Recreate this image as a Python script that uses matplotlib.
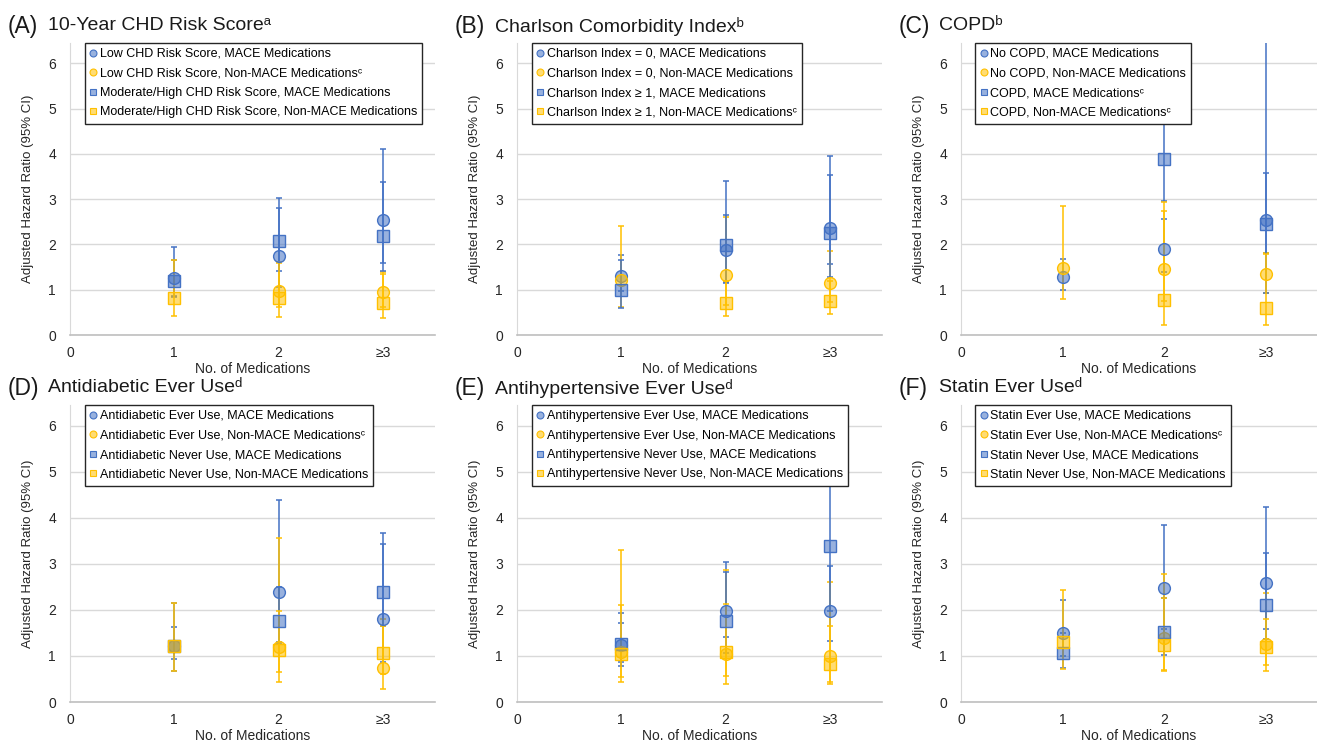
import numpy as np
import matplotlib
matplotlib.use("Agg")
import matplotlib.pyplot as plt

plt.rcParams['font.family'] = ['Liberation Sans', 'DejaVu Sans']

nan = np.nan
xcats = ["0", "1", "2", "\u22653"]
xpos = [1, 2, 3]
SUP = {"a": "\u1d43", "b": "\u1d47", "c": "\u1d9c", "d": "\u1d48"}

# series order: circle-blue, circle-yellow, square-blue, square-yellow
A_title = "10-Year CHD Risk Score"
A_sup = "a"
A_labels = ["Low CHD Risk Score, MACE Medications",
            "Low CHD Risk Score, Non-MACE Medications" + SUP["c"],
            "Moderate/High CHD Risk Score, MACE Medications",
            "Moderate/High CHD Risk Score, Non-MACE Medications"]
A_hr = [[1.27, 1.75, 2.54], [nan, 0.98, 0.94], [1.19, 2.08, 2.19], [0.82, 0.81, 0.70]]
A_lo = [[0.86, 1.05, 1.58], [nan, 0.61, 0.62], [0.85, 1.42, 1.42], [0.42, 0.40, 0.37]]
A_hi = [[1.95, 2.81, 4.10], [nan, 1.58, 1.40], [1.66, 3.02, 3.39], [1.66, 1.62, 1.35]]

B_title = "Charlson Comorbidity Index"
B_sup = "b"
B_labels = ["Charlson Index = 0, MACE Medications",
            "Charlson Index = 0, Non-MACE Medications",
            "Charlson Index \u2265 1, MACE Medications",
            "Charlson Index \u2265 1, Non-MACE Medications" + SUP["c"]]
B_hr = [[1.31, 1.88, 2.36], [1.22, 1.32, 1.15], [1.00, 1.99, 2.25], [nan, 0.70, 0.74]]
B_lo = [[0.98, 1.14, 1.57], [0.62, 0.67, 0.72], [0.60, 1.16, 1.29], [nan, 0.41, 0.46]]
B_hi = [[1.76, 2.64, 3.53], [2.41, 2.60, 1.85], [1.66, 3.40, 3.96], [nan, 1.20, 1.20]]

C_title = "COPD"
C_sup = "b"
C_labels = ["No COPD, MACE Medications",
            "No COPD, Non-MACE Medications",
            "COPD, MACE Medications" + SUP["c"],
            "COPD, Non-MACE Medications" + SUP["c"]]
C_hr = [[1.28, 1.91, 2.54], [1.49, 1.46, 1.35], [nan, 3.88, 2.46], [nan, 0.77, 0.59]]
C_lo = [[0.99, 1.40, 1.81], [0.79, 0.75, 0.92], [nan, 2.95, 0.93], [nan, 0.21, 0.21]]
C_hi = [[1.68, 2.57, 3.57], [2.84, 2.74, 1.81], [nan, 12.0, 9.0], [nan, 2.94, 1.80]]

D_title = "Antidiabetic Ever Use"
D_sup = "d"
D_labels = ["Antidiabetic Ever Use, MACE Medications",
            "Antidiabetic Ever Use, Non-MACE Medications" + SUP["c"],
            "Antidiabetic Never Use, MACE Medications",
            "Antidiabetic Never Use, Non-MACE Medications"]
D_hr = [[1.22, 2.39, 1.81], [nan, 1.19, 0.73], [1.22, 1.76, 2.38], [1.22, 1.12, 1.06]]
D_lo = [[0.94, 1.30, 0.87], [nan, 0.43, 0.28], [0.68, 1.25, 1.65], [0.68, 0.65, 0.60]]
D_hi = [[1.63, 4.38, 3.44], [nan, 3.56, 1.80], [2.16, 2.50, 3.68], [2.14, 1.98, 1.65]]

E_title = "Antihypertensive Ever Use"
E_sup = "d"
E_labels = ["Antihypertensive Ever Use, MACE Medications",
            "Antihypertensive Ever Use, Non-MACE Medications",
            "Antihypertensive Never Use, MACE Medications",
            "Antihypertensive Never Use, Non-MACE Medications"]
E_hr = [[1.24, 1.98, 1.97], [1.09, 1.05, 1.00], [1.25, 1.75, 3.38], [1.04, 1.09, 0.82]]
E_lo = [[0.87, 1.42, 1.32], [0.54, 0.39, 0.39], [0.79, 1.06, 1.97], [0.43, 0.56, 0.44]]
E_hi = [[1.71, 3.04, 2.96], [2.10, 2.87, 2.60], [1.93, 2.82, 5.85], [3.31, 2.13, 1.65]]

F_title = "Statin Ever Use"
F_sup = "d"
F_labels = ["Statin Ever Use, MACE Medications",
            "Statin Ever Use, Non-MACE Medications" + SUP["c"],
            "Statin Never Use, MACE Medications",
            "Statin Never Use, Non-MACE Medications"]
F_hr = [[1.50, 2.47, 2.59], [nan, 1.39, 1.26], [1.06, 1.53, 2.10], [1.31, 1.24, 1.20]]
F_lo = [[1.00, 1.59, 1.58], [nan, 0.70, 0.68], [0.74, 1.02, 1.37], [0.72, 0.68, 0.80]]
F_hi = [[2.21, 3.85, 4.23], [nan, 2.77, 2.37], [1.50, 2.26, 3.23], [2.43, 2.25, 1.80]]

panels = [("A", A_title, A_sup, A_labels, A_hr, A_lo, A_hi),
          ("B", B_title, B_sup, B_labels, B_hr, B_lo, B_hi),
          ("C", C_title, C_sup, C_labels, C_hr, C_lo, C_hi),
          ("D", D_title, D_sup, D_labels, D_hr, D_lo, D_hi),
          ("E", E_title, E_sup, E_labels, E_hr, E_lo, E_hi),
          ("F", F_title, F_sup, F_labels, F_hr, F_lo, F_hi)]

blue = "#4472C4"
yellow = "#FFC000"
colors = [blue, yellow, blue, yellow]
markers = ["o", "o", "s", "s"]

W, H = 1317, 742
fig = plt.figure(figsize=(W / 100, H / 100), dpi=100)

# axes boxes in pixels: left, top, right, bottom
lefts = [70, 517, 961]
rights = [435, 882, 1317]
rows = [(43, 335), (405, 702)]

for i, (tag, title, sup, labels, hr, lo, hi) in enumerate(panels):
    r, c = divmod(i, 3)
    top, bot = rows[r]
    l, rr = lefts[c], rights[c]
    ax = fig.add_axes([l / W, 1 - bot / H, (rr - l) / W, (bot - top) / H])
    handles = []
    for k in range(4):
        y = np.array(hr[k])
        yerr = [y - np.array(lo[k]), np.array(hi[k]) - y]
        col = matplotlib.colors.to_rgba(colors[k])
        face = (col[0], col[1], col[2], 0.55)
        ax.errorbar(xpos, y, yerr=yerr, fmt="none", ecolor=colors[k],
                    elinewidth=1.1, capsize=2.5, capthick=1.1, zorder=2 + k * 0.1)
        ax.plot(xpos, y, linestyle="none", marker=markers[k], markersize=8.5,
                markerfacecolor=face, markeredgecolor=colors[k],
                markeredgewidth=1.0, zorder=3 + k * 0.1)
        h, = ax.plot([], [], linestyle="none", marker=markers[k], markersize=5,
                     markerfacecolor=face, markeredgecolor=colors[k],
                     markeredgewidth=0.8)
        handles.append(h)

    ax.set_xlim(0, 3.5)
    ax.set_ylim(0, 6.45)
    ax.set_yticks(range(0, 7))
    ax.set_xticks([0, 1, 2, 3])
    ax.set_xticklabels(xcats)
    ax.tick_params(length=0, labelsize=10, labelcolor="#262626")
    ax.tick_params(axis="x", pad=8)
    ax.tick_params(axis="y", pad=10)
    ax.grid(axis="y", color="#d9d9d9", linewidth=1.0)
    ax.set_axisbelow(True)
    for s in ["top", "right"]:
        ax.spines[s].set_visible(False)
    ax.spines["left"].set_color("#d9d9d9")
    ax.spines["bottom"].set_color("#bfbfbf")
    ax.spines["bottom"].set_linewidth(1.2)
    ax.set_xlabel("No. of Medications", fontsize=10, labelpad=1, color="#262626")
    ax.set_ylabel("Adjusted Hazard Ratio (95% CI)", fontsize=9.5, labelpad=10,
                  color="#262626")

    leg = ax.legend(handles, labels, loc="upper left", bbox_to_anchor=(0.04, 1.0),
                    borderaxespad=0, fontsize=9, handlelength=0.6,
                    handletextpad=0.2, labelspacing=0.6, borderpad=0.4,
                    fancybox=False, framealpha=1, edgecolor="#262626")
    leg.get_frame().set_linewidth(1.0)

    ty = (top - 17) / H
    fig.text((l - 62) / W, 1 - ty, "(" + tag + ")", fontsize=16.5,
             va="center", ha="left", color="#1a1a1a")
    fig.text((l - 22) / W, 1 - ty, title + SUP[sup],
             fontsize=14, va="center", ha="left", color="#1a1a1a")

fig.savefig("out.png", dpi=100)
